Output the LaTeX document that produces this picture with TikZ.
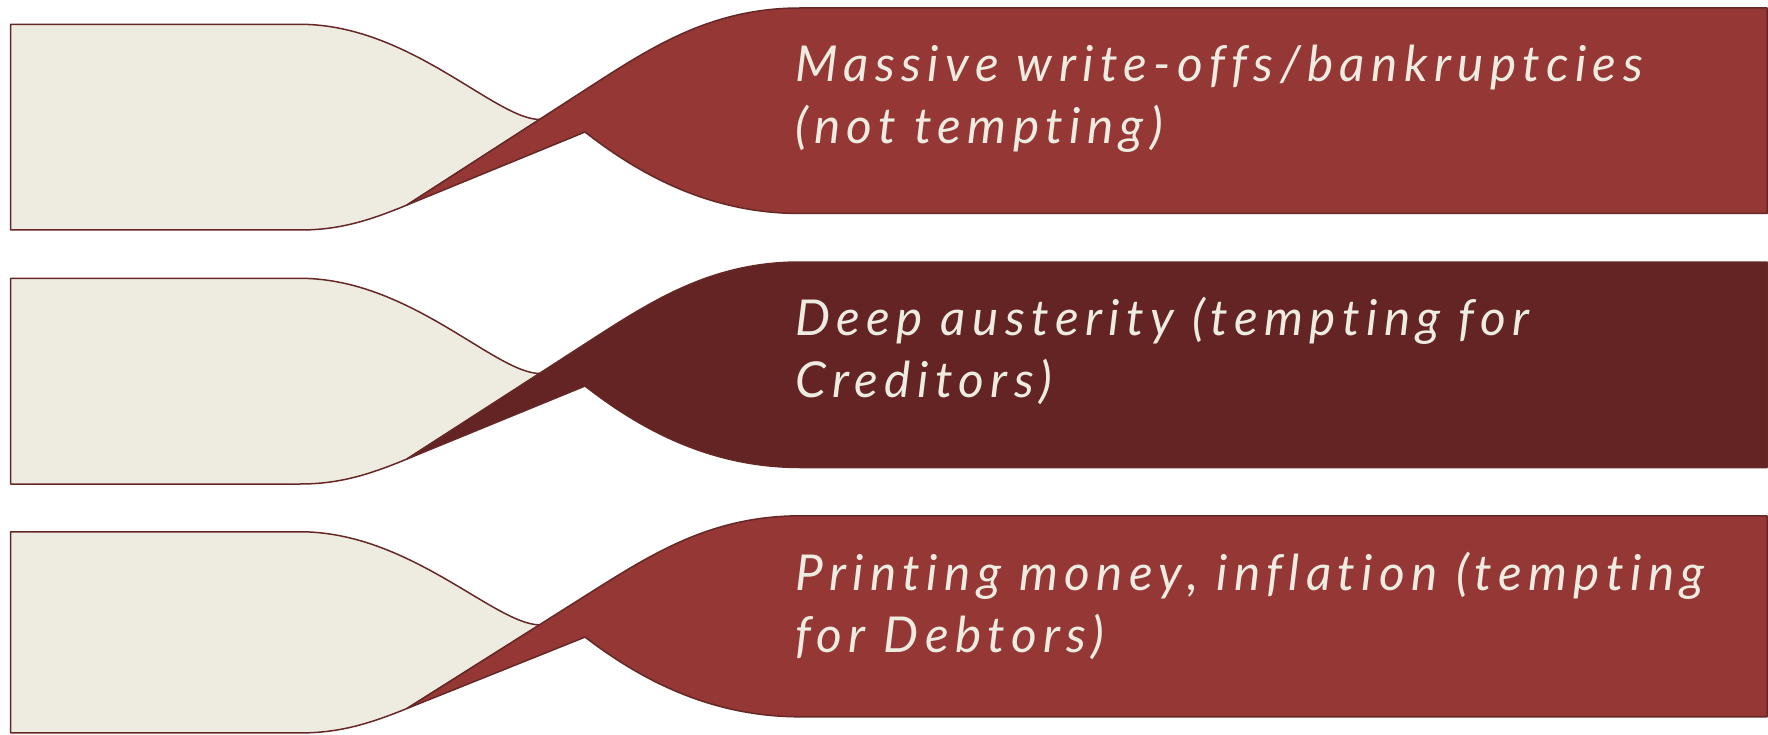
\documentclass[tikz,border=0pt]{standalone}
\usepackage{fontspec}
\setmainfont{Lato}
\newfontfamily\lblfont[LetterSpace=13, Ligatures=NoCommon]{Lato}
\definecolor{beige}{HTML}{EEECE1}
\definecolor{redA}{HTML}{953735}
\definecolor{redB}{HTML}{632423}
\definecolor{edgecol}{HTML}{662827}
\tikzset{
  edgeline/.style={draw=edgecol, line width=1.5pt, line join=round},
  lbl/.style={text=beige, align=left, inner sep=0pt,
    font=\lblfont\fontsize{49.5}{61.5}\selectfont\itshape}
}
\newcommand\ribbonshape[1]{%
  \draw[edgeline, fill=beige] (10.7,24.3) -- (300,24.3)
     .. controls (410,24.3) and (495,119.5) .. (540,119.5)
     -- (407,205) .. controls (370,220.3) and (340,230) .. (300,230)
     -- (10.7,230) -- cycle;
  \draw[edgeline, fill=#1] (407,205) -- (585,90)
     .. controls (650,48) and (710,8) .. (800,8)
     -- (1767,8) -- (1767,213.5) -- (800,213.5)
     .. controls (710,213.5) and (640,175) .. (585,132) -- cycle;
}
\begin{document}
\begin{tikzpicture}[x=1pt,y=-1pt]
  \useasboundingbox (0,0) rectangle (1768,735);
  \begin{scope}
    \ribbonshape{redA}
  \end{scope}
  \begin{scope}[shift={(0,254)}]
    \ribbonshape{redB}
  \end{scope}
  \begin{scope}[shift={(0,508)}, yscale=0.978]
    \ribbonshape{redA}
  \end{scope}
  \node[lbl, anchor=base west] (t1) at (795,143.2) {Massive write-offs/bankruptcies\\(not tempting)};
  \node[lbl, anchor=base west] (t2) at (795,397.2) {Deep austerity (tempting for\\Creditors)};
  \node[lbl, anchor=base west] (t3) at (795,652) {Printing money, inflation (tempting\\for Debtors)};
\end{tikzpicture}
\end{document}
